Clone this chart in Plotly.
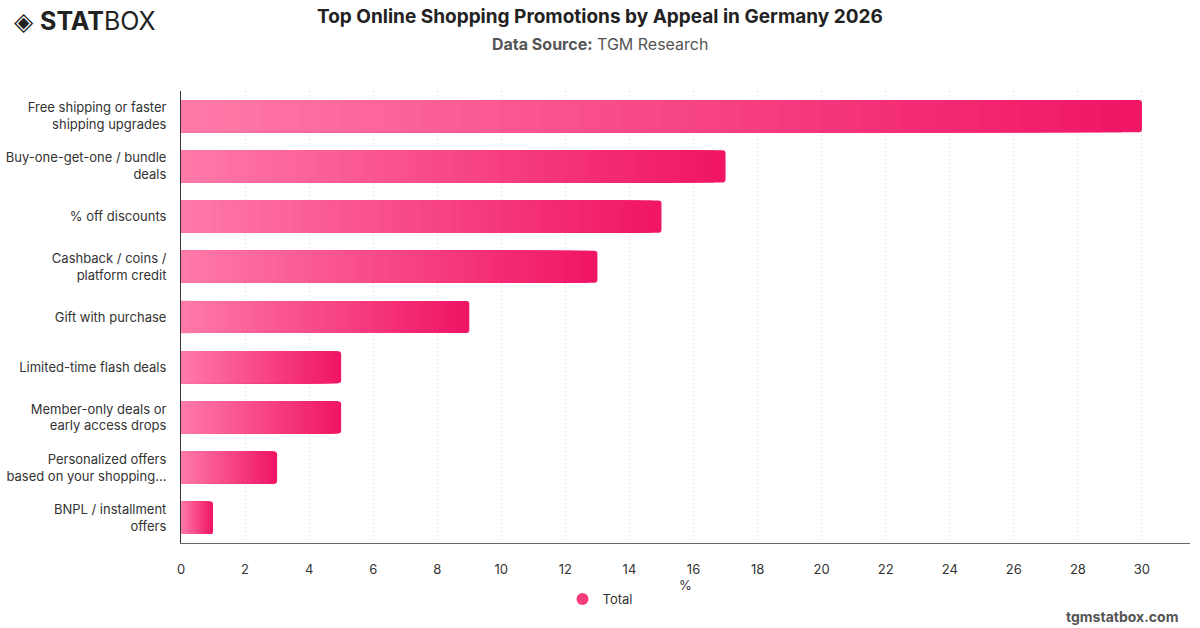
import plotly.graph_objects as go

categories = [
    "Free shipping or faster<br>shipping upgrades",
    "Buy-one-get-one / bundle<br>deals",
    "% off discounts",
    "Cashback / coins /<br>platform credit",
    "Gift with purchase",
    "Limited-time flash deals",
    "Member-only deals or<br>early access drops",
    "Personalized offers<br>based on your shopping...",
    "BNPL / installment<br>offers",
]
values = [30, 17, 15, 13, 9, 5, 5, 3, 1]
x_ticks = list(range(0, 31, 2))
series_name = "Total"
x_title = "%"

START = (255, 122, 170)
END = (240, 20, 100)
N = 48

W, H = 1200, 628
ML, MR, MT, MB = 181, 10, 91, 85
PW, PH = W - ML - MR, H - MT - MB

def px(x):
    return (x - ML) / PW

def py(y):
    return (H - MB - y) / PH

def mix(t):
    r = [round(START[i] + (END[i] - START[i]) * t) for i in range(3)]
    return f"rgb({r[0]},{r[1]},{r[2]})"

fig = go.Figure()
for k in range(N, 0, -1):
    frac = k / N
    fig.add_trace(go.Bar(
        y=categories,
        x=[v * frac for v in values],
        orientation="h",
        marker=dict(color=mix((k - 0.5) / N), line=dict(width=0),
                    cornerradius=3 if k == N else 0),
        showlegend=False,
        hoverinfo="skip",
        width=0.64,
    ))

fig.add_trace(go.Scatter(
    x=[None], y=[None], mode="markers", name=series_name,
    marker=dict(symbol="circle", size=13, color="rgb(245,60,125)"),
))

font_family = "Inter, Roboto, sans-serif"

fig.update_layout(
    width=W, height=H,
    margin=dict(l=ML, r=MR, t=MT, b=MB, autoexpand=False),
    paper_bgcolor="white", plot_bgcolor="white",
    barmode="overlay",
    font=dict(family=font_family, color="#333", size=13),
    showlegend=True,
    legend=dict(orientation="h", xref="container", x=0.5, xanchor="center",
                yref="container", y=1 - 599 / H, yanchor="middle",
                font=dict(size=13, color="#333"), itemsizing="constant",
                itemwidth=30),
    xaxis=dict(
        range=[0, 31.5], tickvals=x_ticks, showgrid=True,
        gridcolor="#d9d9d9", griddash="1px,3px", gridwidth=1,
        showline=True, linecolor="#666", linewidth=1,
        zeroline=False, ticks="", ticklabelstandoff=14,
        automargin=False,
        tickfont=dict(size=13, color="#333"),
    ),
    yaxis=dict(
        categoryorder="array", categoryarray=categories,
        autorange="reversed", showgrid=False,
        showline=True, linecolor="#333", linewidth=1,
        ticks="", ticklabelstandoff=11, automargin=False,
        tickfont=dict(size=13, color="#333"),
    ),
    annotations=[
        dict(text=x_title,
             xref="paper", yref="paper", x=0.5, y=py(585),
             xanchor="center", yanchor="middle", showarrow=False,
             font=dict(size=13, color="#333", family=font_family)),
        dict(text="<b>Top Online Shopping Promotions by Appeal in Germany 2026</b>",
             xref="paper", yref="paper", x=px(600), y=py(16),
             xanchor="center", yanchor="middle", showarrow=False,
             font=dict(size=19, color="#222", family=font_family)),
        dict(text="<b>Data Source:</b> TGM Research",
             xref="paper", yref="paper", x=px(600), y=py(44),
             xanchor="center", yanchor="middle", showarrow=False,
             font=dict(size=16, color="#555", family=font_family)),
        dict(text="◈ <b>STAT</b>BOX",
             xref="paper", yref="paper", x=px(12), y=py(21),
             xanchor="left", yanchor="middle", showarrow=False,
             font=dict(size=25, color="#222", family=font_family)),
        dict(text="<b>tgmstatbox.com</b>",
             xref="paper", yref="paper", x=px(1180), y=py(616),
             xanchor="right", yanchor="middle", showarrow=False,
             font=dict(size=14, color="#555", family=font_family)),
    ],
)

fig.write_html("out.html")
